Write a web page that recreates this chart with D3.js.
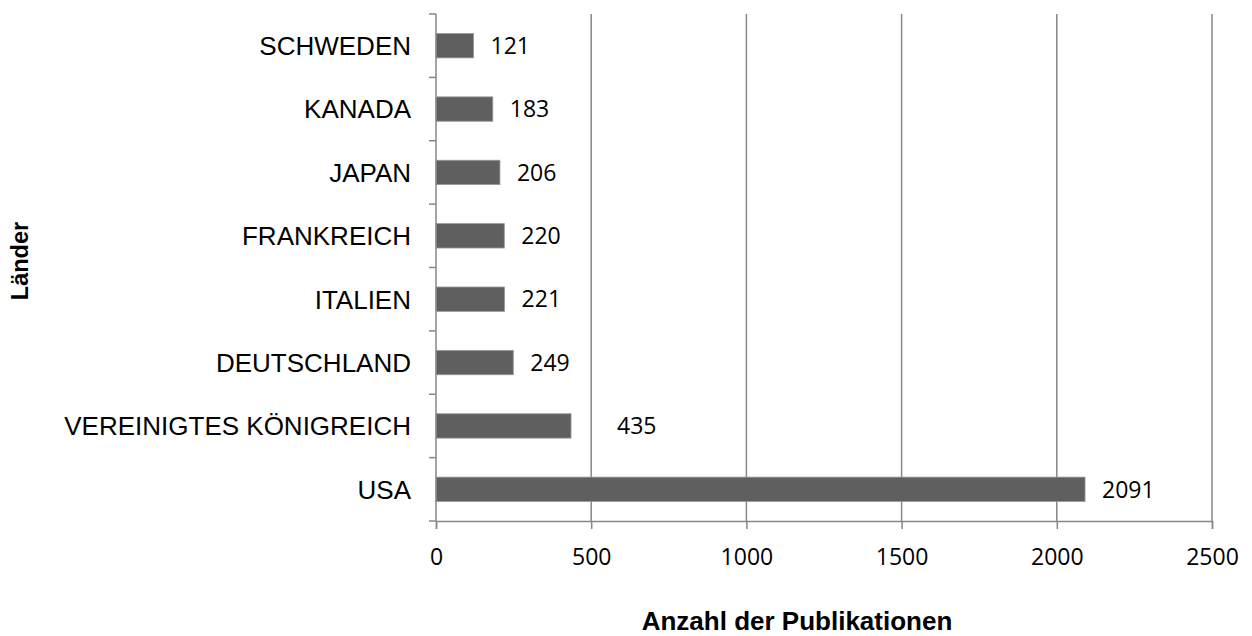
<!DOCTYPE html>
<html>
<head>
<meta charset="utf-8">
<script src="https://cdn.jsdelivr.net/npm/d3@7"></script>
<style>
  html, body { margin: 0; padding: 0; background: #fff; }
  svg { display: block; }
</style>
</head>
<body>
<svg id="chart" width="1252" height="636"></svg>
<script>
// Publications per country (top to bottom as drawn)
const countries = ["SCHWEDEN", "KANADA", "JAPAN", "FRANKREICH", "ITALIEN", "DEUTSCHLAND", "VEREINIGTES KÖNIGREICH", "USA"];
const publications = [121, 183, 206, 220, 221, 249, 435, 2091];
const xTicks = [0, 500, 1000, 1500, 2000, 2500];
const xTitle = "Anzahl der Publikationen";
const yTitle = "Länder";

// Extra horizontal offset for individual value labels
const labelShift = { "VEREINIGTES KÖNIGREICH": 29 };

const svg = d3.select("#chart");
const plot = { left: 436, right: 1212, top: 14, bottom: 521 };

const x = d3.scaleLinear().domain([0, 2500]).range([plot.left, plot.right]);
const y = d3.scaleBand().domain(countries).range([plot.top, plot.bottom]).paddingInner(0.615).paddingOuter(0.3075);
const yb = d3.scaleBand().domain(countries).range([plot.top, plot.bottom]);

const gridColor = "#878787";
const valueFont = "'Open Sans', 'Noto Sans', sans-serif";
const catFont = "'Liberation Sans', Arial, sans-serif";

// vertical gridlines
svg.append("g")
  .selectAll("line")
  .data(xTicks.filter(d => d > 0))
  .join("line")
  .attr("x1", d => x(d)).attr("x2", d => x(d))
  .attr("y1", plot.top).attr("y2", plot.bottom)
  .attr("stroke", gridColor).attr("stroke-width", 1.5);

// bars
svg.append("g")
  .selectAll("rect")
  .data(countries)
  .join("rect")
  .attr("x", x(0))
  .attr("y", d => y(d))
  .attr("width", (d, i) => x(publications[i]) - x(0))
  .attr("height", y.bandwidth())
  .attr("fill", "#5f5f5f")
  .attr("stroke", "#9a9a9a")
  .attr("stroke-width", 0.8);

// x axis
const xAxis = d3.axisBottom(x).tickValues(xTicks).tickSize(8).tickPadding(20).tickFormat(d3.format("d"));
const gx = svg.append("g").attr("transform", `translate(0,${plot.bottom})`).call(xAxis);
gx.select(".domain").attr("stroke", gridColor).attr("stroke-width", 1.5);
gx.selectAll(".tick line").attr("stroke", gridColor).attr("stroke-width", 1.5);
gx.selectAll(".tick text")
  .attr("font-family", valueFont).attr("font-size", 23).attr("fill", "#000");

// y axis: ticks at band boundaries
svg.append("line")
  .attr("x1", plot.left).attr("x2", plot.left)
  .attr("y1", plot.top).attr("y2", plot.bottom)
  .attr("stroke", gridColor).attr("stroke-width", 1.5);
const boundaries = countries.map(d => yb(d)).concat([plot.bottom]);
svg.append("g")
  .selectAll("line")
  .data(boundaries)
  .join("line")
  .attr("x1", plot.left - 7).attr("x2", plot.left)
  .attr("y1", d => d).attr("y2", d => d)
  .attr("stroke", gridColor).attr("stroke-width", 1.5);

// category labels
svg.append("g")
  .selectAll("text")
  .data(countries)
  .join("text")
  .attr("x", 411)
  .attr("y", d => yb(d) + yb.bandwidth() / 2)
  .attr("dy", "0.36em")
  .attr("text-anchor", "end")
  .attr("font-family", catFont).attr("font-size", 26).attr("fill", "#000")
  .text(d => d);

// value labels
svg.append("g")
  .selectAll("text")
  .data(countries)
  .join("text")
  .attr("x", (d, i) => x(publications[i]) + 17 + (labelShift[d] || 0))
  .attr("y", d => y(d) + y.bandwidth() / 2)
  .attr("dy", "0.36em")
  .attr("font-family", valueFont).attr("font-size", 23).attr("fill", "#000")
  .text((d, i) => publications[i]);

// axis titles
svg.append("text")
  .attr("x", 797).attr("y", 630)
  .attr("text-anchor", "middle")
  .attr("font-family", catFont).attr("font-size", 26).attr("font-weight", "bold")
  .text(xTitle);

svg.append("text")
  .attr("transform", "translate(28,261) rotate(-90)")
  .attr("text-anchor", "middle")
  .attr("font-family", catFont).attr("font-size", 23.5).attr("font-weight", "bold")
  .text(yTitle);
</script>
</body>
</html>
